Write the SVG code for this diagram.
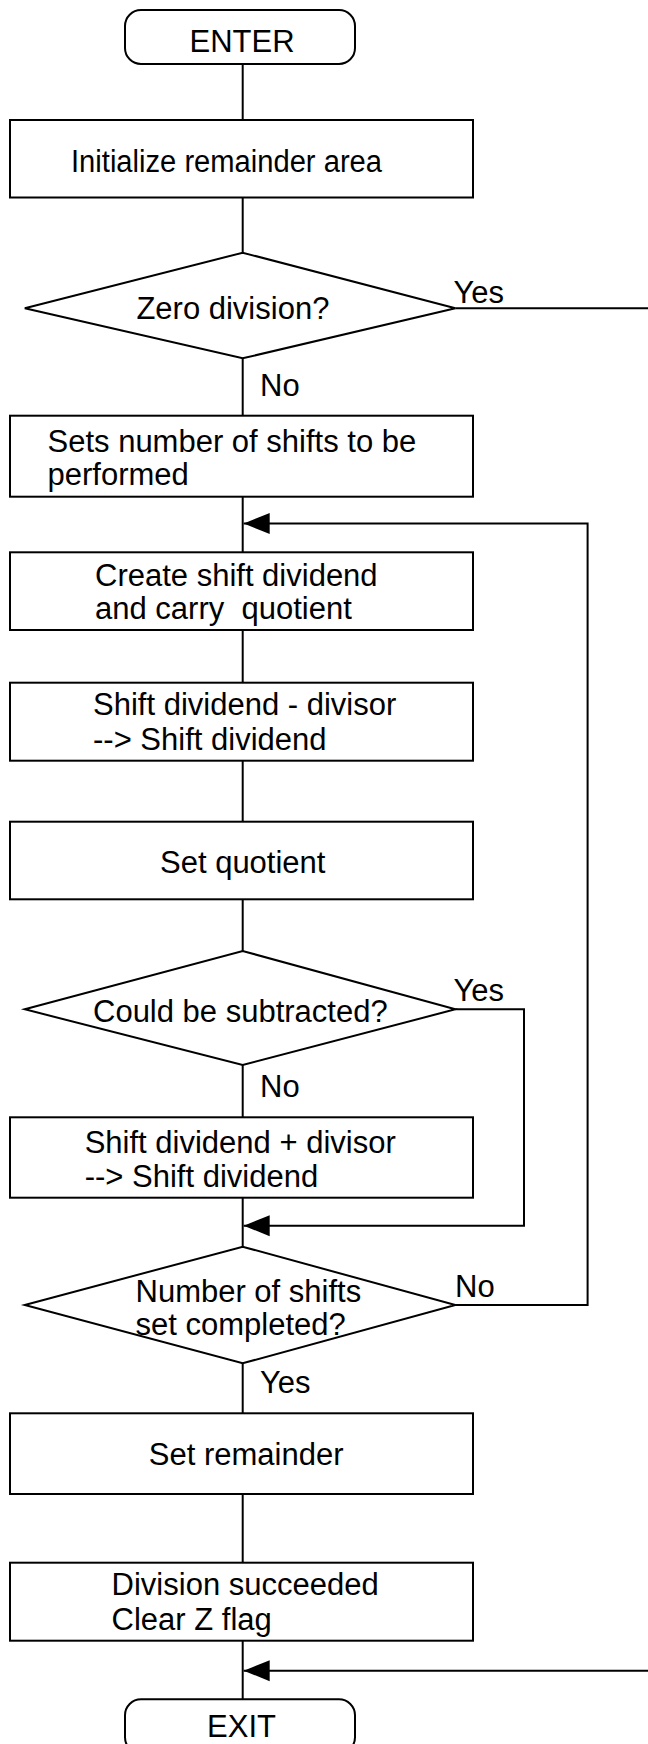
<svg xmlns="http://www.w3.org/2000/svg" width="648" height="1744" viewBox="0 0 648 1744">
<style>
.shape{fill:#fff;stroke:#000;stroke-width:2}
.line{fill:none;stroke:#000;stroke-width:2}
text{font-family:"Liberation Sans",Arial,sans-serif;font-size:31px;fill:#000;white-space:pre}
.c{text-anchor:middle}
</style>
<defs>
<marker id="arr" markerUnits="userSpaceOnUse" markerWidth="27" markerHeight="22" viewBox="0 0 27 22" refX="26" refY="11" orient="auto">
<path d="M0,0.5 L26,11 L0,21.5 z" fill="#000"/>
</marker>
</defs>
<rect width="648" height="1744" fill="#fff"/>
<g id="connectors">
<path class="line" d="M242.7,64 V120"/>
<path class="line" d="M242.7,197.5 V252.7"/>
<path class="line" d="M455.4,308.3 H648"/>
<path class="line" d="M242.7,358.3 V415.7"/>
<path class="line" d="M242.7,496.7 V552.3"/>
<path class="line" d="M242.7,630 V682.7"/>
<path class="line" d="M242.7,760.7 V821.7"/>
<path class="line" d="M242.7,899.3 V951"/>
<path class="line" d="M242.7,1065 V1117.3"/>
<path class="line" d="M242.7,1197.7 V1246.7"/>
<path class="line" d="M242.7,1363.3 V1413.3"/>
<path class="line" d="M242.7,1494 V1562.7"/>
<path class="line" d="M242.7,1640.7 V1699.3"/>
<path class="line" d="M455.4,1009.3 H524 V1225.7 H243.7" marker-end="url(#arr)"/>
<path class="line" d="M455.4,1305 H587.6 V523.5 H243.7" marker-end="url(#arr)"/>
<path class="line" d="M648,1670.7 H243.7" marker-end="url(#arr)"/>
</g>
<g id="enter">
<rect class="shape" x="125" y="10" width="230" height="54" rx="16"/>
<text class="c" x="242" y="52.3">ENTER</text>
</g>
<g id="init">
<rect class="shape" x="10" y="120" width="463" height="77.5"/>
<text x="71" y="171.7" font-size="32.5" textLength="311" lengthAdjust="spacingAndGlyphs">Initialize remainder area</text>
</g>
<g id="zero">
<polygon class="shape" points="24.8,308.3 242.7,252.7 455.4,308.3 242.7,358.3"/>
<text x="136.4" y="319.3">Zero division?</text>
<text x="453.5" y="302.5">Yes</text>
<text x="260" y="395.7">No</text>
</g>
<g id="sets">
<rect class="shape" x="10" y="415.7" width="463" height="81"/>
<text x="47.5" y="451.7">Sets number of shifts to be</text>
<text x="47.5" y="485">performed</text>
</g>
<g id="create">
<rect class="shape" x="10" y="552.3" width="463" height="77.7"/>
<text x="95" y="586">Create shift dividend</text>
<text x="95" y="619">and carry  quotient</text>
</g>
<g id="sub">
<rect class="shape" x="10" y="682.7" width="463" height="78"/>
<text x="93" y="715">Shift dividend - divisor</text>
<text x="93" y="750">--&gt; Shift dividend</text>
</g>
<g id="setq">
<rect class="shape" x="10" y="821.7" width="463" height="77.6"/>
<text x="160" y="872.7">Set quotient</text>
</g>
<g id="could">
<polygon class="shape" points="24.8,1009.3 242.7,951 455.4,1009.3 242.7,1065"/>
<text x="93" y="1021.7">Could be subtracted?</text>
<text x="453.5" y="1000.7">Yes</text>
<text x="260" y="1097.3">No</text>
</g>
<g id="add">
<rect class="shape" x="10" y="1117.3" width="463" height="80.4"/>
<text x="84.7" y="1153.3">Shift dividend + divisor</text>
<text x="84.7" y="1186.7">--&gt; Shift dividend</text>
</g>
<g id="num">
<polygon class="shape" points="24.8,1305 242.7,1246.7 455.4,1305 242.7,1363.3"/>
<text x="135.5" y="1301.7">Number of shifts</text>
<text x="135.5" y="1335">set completed?</text>
<text x="455" y="1296.7">No</text>
<text x="260" y="1393.3">Yes</text>
</g>
<g id="setr">
<rect class="shape" x="10" y="1413.3" width="463" height="80.7"/>
<text x="148.8" y="1465">Set remainder</text>
</g>
<g id="succ">
<rect class="shape" x="10" y="1562.7" width="463" height="78"/>
<text x="111.6" y="1595">Division succeeded</text>
<text x="111.6" y="1630">Clear Z flag</text>
</g>
<g id="exit">
<rect class="shape" x="125" y="1699.3" width="230" height="54" rx="16"/>
<text class="c" x="241.5" y="1736.7">EXIT</text>
</g>
</svg>
